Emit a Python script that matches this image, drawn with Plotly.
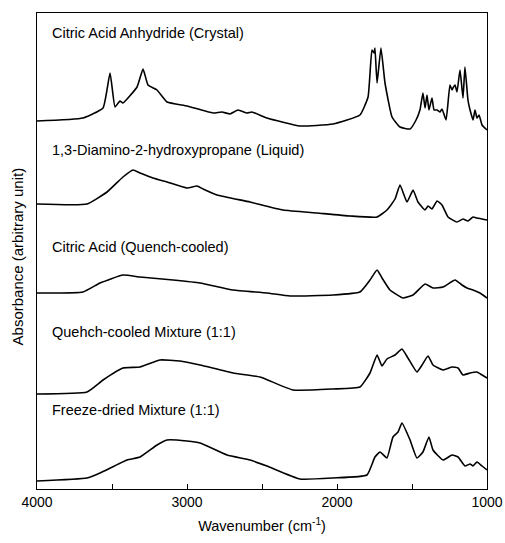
import plotly.graph_objects as go

# ---- data (wavenumber in cm^-1, absorbance in stacked arbitrary units) ----
anhydride_wn = [4000, 3693, 3560, 3513, 3480, 3447, 3427, 3333, 3293, 3260, 3200, 3133, 3000, 2827,
                2767, 2713, 2660, 2600, 2567, 2467, 2247, 2027, 1847, 1793, 1767, 1753, 1747, 1733,
                1707, 1680, 1633, 1580, 1513, 1473, 1447, 1427, 1413, 1400, 1387, 1367, 1353, 1333,
                1313, 1300, 1273, 1247, 1233, 1227, 1213, 1200, 1180, 1160, 1147, 1127, 1113, 1093,
                1080, 1067, 1053, 1033, 1000]
anhydride_abs = [36.8, 37.1, 38.1, 41.6, 38.2, 38.8, 38.6, 40.2, 42.0, 40.4, 39.9, 38.7, 38.3, 37.6,
                 37.7, 37.5, 37.9, 37.6, 37.7, 37.1, 36.3, 36.5, 37.4, 39.2, 43.9, 43.6, 44.1, 40.6,
                 44.1, 40.6, 37.2, 36.2, 36.0, 36.9, 37.9, 39.6, 38.1, 39.4, 37.9, 39.1, 37.9, 37.9,
                 37.7, 38.0, 36.9, 40.4, 39.9, 40.1, 40.4, 39.7, 41.9, 39.1, 42.2, 38.9, 37.9, 36.9,
                 37.9, 37.1, 37.4, 36.4, 35.9]

diamino_wn = [4000, 3667, 3533, 3427, 3360, 3313, 3227, 3133, 3000, 2933, 2893, 2800, 2580, 2360,
              2133, 1913, 1733, 1667, 1613, 1580, 1533, 1493, 1460, 1413, 1393, 1367, 1333, 1300,
              1260, 1200, 1160, 1127, 1093, 1067, 1000]
diamino_abs = [28.5, 28.5, 29.7, 31.2, 31.9, 31.6, 31.1, 30.7, 30.1, 30.3, 30.0, 29.4, 28.7, 27.9,
               27.6, 27.3, 27.2, 27.9, 29.0, 30.4, 28.7, 29.9, 28.7, 27.9, 28.3, 28.0, 28.8, 28.4,
               27.2, 26.7, 27.0, 26.8, 27.2, 27.1, 26.9]

citric_wn = [4000, 3693, 3580, 3427, 3313, 3093, 2913, 2693, 2467, 2313, 2027, 1847, 1780, 1733,
             1700, 1647, 1560, 1493, 1413, 1360, 1293, 1213, 1167, 1133, 1093, 1047, 1000]
citric_abs = [19.6, 19.7, 20.6, 21.4, 21.2, 20.9, 20.6, 19.9, 19.6, 19.3, 19.4, 19.7, 20.9, 21.9,
              21.1, 19.9, 19.1, 19.4, 20.5, 20.1, 20.2, 20.9, 20.4, 20.1, 19.9, 19.6, 19.1]

quench_wn = [4000, 3667, 3560, 3427, 3313, 3180, 3047, 2913, 2693, 2513, 2293, 2027, 1847, 1780,
             1733, 1700, 1667, 1613, 1567, 1527, 1467, 1433, 1393, 1360, 1293, 1233, 1193, 1160,
             1113, 1067, 1033, 1000]
quench_abs = [9.5, 9.7, 10.9, 12.1, 12.2, 12.9, 12.8, 12.4, 11.6, 11.2, 9.9, 10.0, 10.2, 11.6,
              13.4, 12.3, 13.0, 13.4, 14.0, 13.1, 11.7, 12.4, 13.3, 12.4, 11.9, 12.2, 12.1, 11.4,
              11.6, 11.7, 11.4, 11.1]

freeze_wn = [4000, 3667, 3580, 3400, 3313, 3200, 3133, 3000, 2913, 2733, 2580, 2467, 2247, 2027,
             1800, 1747, 1713, 1667, 1627, 1593, 1567, 1513, 1467, 1427, 1387, 1360, 1293, 1233,
             1193, 1147, 1113, 1093, 1067, 1033, 1000]
freeze_abs = [0.8, 1.1, 1.6, 2.9, 3.2, 4.4, 4.9, 4.8, 4.6, 3.4, 2.9, 2.3, 1.0, 1.1,
              1.4, 3.2, 3.7, 3.1, 5.2, 5.7, 6.6, 4.9, 3.1, 3.7, 5.2, 3.9, 2.9, 3.4,
              3.2, 2.3, 2.5, 2.3, 2.7, 2.3, 1.9]

labels = ["Citric Acid Anhydride (Crystal)", "1,3-Diamino-2-hydroxypropane (Liquid)",
          "Citric Acid (Quench-cooled)", "Quehch-cooled Mixture (1:1)", "Freeze-dried Mixture (1:1)"]
label_y = [45.6, 33.9, 24.2, 15.7, 7.9]
x_ticks = [4000, 3000, 2000, 1000]

series = [(anhydride_wn, anhydride_abs), (diamino_wn, diamino_abs), (citric_wn, citric_abs),
          (quench_wn, quench_abs), (freeze_wn, freeze_abs)]

FONT = "Liberation Sans, Arial, sans-serif"

fig = go.Figure()
for (wn, ab), name in zip(series, labels):
    fig.add_trace(go.Scatter(x=wn, y=ab, mode="lines", name=name,
                             line=dict(color="black", width=1.6, shape="spline", smoothing=0.4),
                             showlegend=False, hoverinfo="skip"))

for text, y in zip(labels, label_y):
    fig.add_annotation(x=3913, y=y, xref="x", yref="y", text=text, showarrow=False,
                       xanchor="left", yanchor="middle", font=dict(size=14.5, color="black", family=FONT))

fig.add_annotation(x=-0.044, y=0.489, xref="paper", yref="paper", text="Absorbance (arbitrary unit)",
                   textangle=-90, showarrow=False, xanchor="center", yanchor="middle",
                   font=dict(size=15, color="black", family=FONT))

fig.update_xaxes(range=[4000, 1000], tickvals=x_ticks, ticktext=[str(v) for v in x_ticks],
                 ticks="inside", ticklen=5, tickcolor="black", showline=True, linecolor="black",
                 linewidth=1, mirror=True, showgrid=False, zeroline=False,
                 minor=dict(ticks="inside", dtick=500, tick0=1000, ticklen=5, tickcolor="black", showgrid=False),
                 tickfont=dict(size=14, color="black", family=FONT),
                 title=dict(text="Wavenumber (cm<sup>-1</sup>)", font=dict(size=14.5, color="black", family=FONT),
                            standoff=12))
fig.update_yaxes(range=[0, 47.6], showticklabels=False, ticks="", showline=True, linecolor="black",
                 linewidth=1, mirror=True, showgrid=False, zeroline=False)

fig.update_layout(width=505, height=543, margin=dict(l=37, r=18, t=13, b=54, autoexpand=False),
                  plot_bgcolor="white", paper_bgcolor="white", font=dict(family=FONT, color="black"))

fig.write_html("out.html")
